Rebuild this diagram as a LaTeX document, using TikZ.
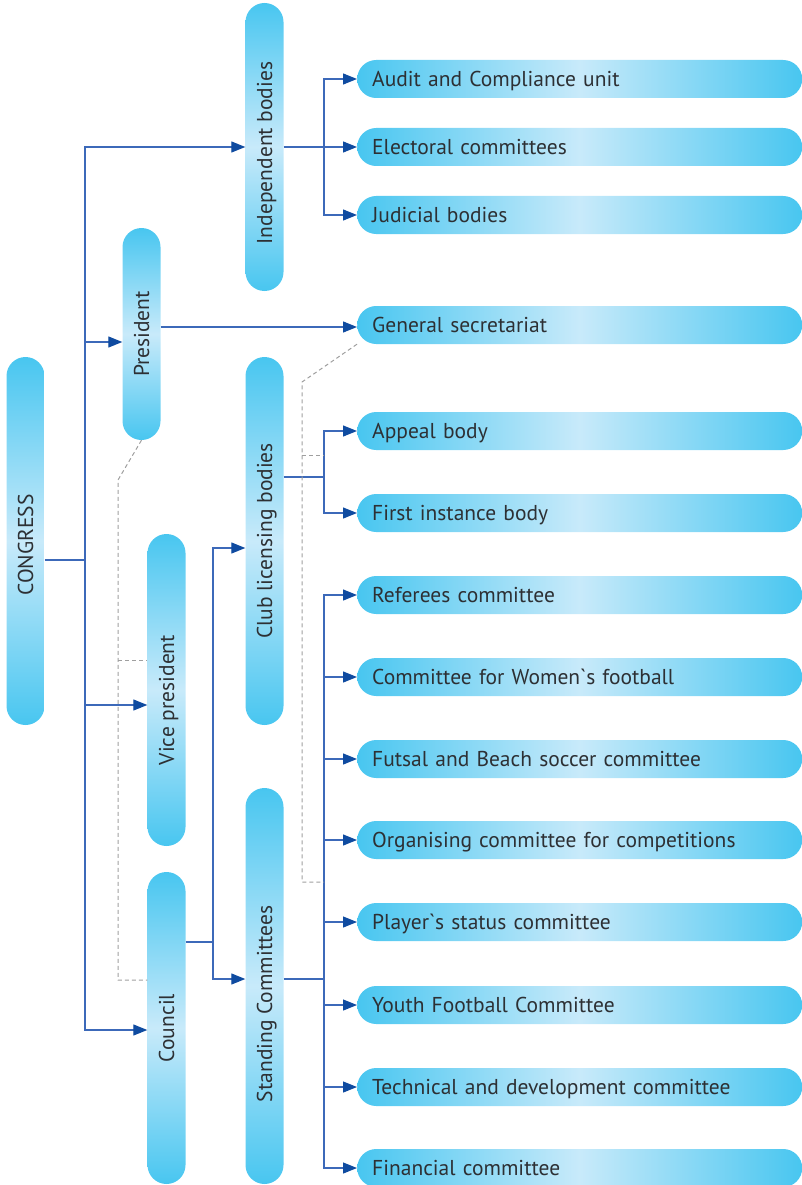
\documentclass[tikz,border=0pt]{standalone}
\usepackage{fontspec}
\setmainfont{PT Sans}
\usetikzlibrary{arrows.meta}
\definecolor{pilldark}{RGB}{72,198,240}
\definecolor{pilllight}{RGB}{200,234,250}
\definecolor{linkblue}{RGB}{60,105,185}
\definecolor{tipblue}{RGB}{15,75,160}
\definecolor{txtgray}{RGB}{45,48,52}
\tikzset{
  pill/.style={rounded corners=19pt, minimum height=38pt, inner ysep=0pt, text=txtgray,
    font=\fontsize{21.5}{24}\selectfont, text height=15pt, text depth=0pt},
  unit/.style={pill, anchor=west, text width=415pt, inner xsep=15pt, align=left,
    left color=pilldark, right color=pilldark, middle color=pilllight},
  body/.style={pill, rotate=90, inner xsep=0pt,
    top color=pilldark, bottom color=pilldark, middle color=pilllight},
  plain/.style={draw=linkblue, line width=1.2pt},
  link/.style={plain, -{Triangle[length=14pt,width=11pt,color=tipblue]}},
  aux/.style={draw=gray!75, line width=1pt, dash pattern=on 4pt off 3pt},
}
\begin{document}
\begin{tikzpicture}[x=1pt,y=-1pt]
\useasboundingbox (0,0) rectangle (802,1185);
% vertical bodies
\node[body, minimum width=368pt] (congress) at (25.5,541) {CONGRESS\hspace*{8pt}};
\node[body, minimum width=288pt] (indep) at (264.5,147) {Independent bodies\hspace*{12pt}};
\node[body, minimum width=212pt] (pres) at (141.5,334) {President};
\node[body, minimum width=368pt] (club) at (264.5,541) {Club licensing bodies};
\node[body, minimum width=312pt] (vice) at (166.5,690) {Vice president\hspace*{20pt}};
\node[body, minimum width=312pt] (council) at (166.5,1028) {Council};
\node[body, minimum width=396pt] (standing) at (264.5,986) {Standing Committees\hspace*{36pt}};
% units on the right
\node[unit] (audit) at (357,79) {Audit and Compliance unit};
\node[unit] (electoral) at (357,147) {Electoral committees};
\node[unit] (judicial) at (357,215) {Judicial bodies};
\node[unit] (gensec) at (357,325) {General secretariat};
\node[unit] (appeal) at (357,431) {Appeal body};
\node[unit] (first) at (357,513) {First instance body};
\node[unit] (referees) at (357,595) {Referees committee};
\node[unit] (women) at (357,677) {Committee for Women\textasciigrave s football};
\node[unit] (futsal) at (357,759) {Futsal and Beach soccer committee};
\node[unit] (organising) at (357,840) {Organising committee for competitions};
\node[unit] (status) at (357,922) {Player\textasciigrave s status committee};
\node[unit] (youth) at (357,1005) {Youth Football Committee};
\node[unit] (technical) at (357,1087) {Technical and development committee};
\node[unit] (financial) at (357,1168) {Financial committee};
% branch points
\coordinate (trunk) at (85,560);
\coordinate (ib) at (324,147);
\coordinate (cb) at (324,477);
\coordinate (kb) at (213,942);
\coordinate (sb) at (324,979);
% congress
\draw[plain] (congress.south |- trunk) -- (trunk);
\draw[link] (trunk) |- (indep.north);
\draw[link] (trunk) |- (pres.north |- 0,342);
\draw[link] (trunk) |- (vice.north |- 0,705);
\draw[link] (trunk) |- (council.north |- 0,1030);
% president
\draw[link] (pres.south |- 0,327) -- (gensec.west |- 0,327);
% independent bodies
\draw[plain] (indep.south) -- (ib);
\foreach \n in {audit,electoral,judicial}
  \draw[link] (ib) |- (\n.west);
% club licensing
\draw[plain] (club.south |- cb) -- (cb);
\foreach \n in {appeal,first}
  \draw[link] (cb) |- (\n.west);
% council
\draw[plain] (council.south |- kb) -- (kb);
\draw[link] (kb) |- (club.north |- 0,548);
\draw[link] (kb) |- (standing.north |- 0,979);
% standing committees
\draw[plain] (standing.south |- sb) -- (sb);
\foreach \n in {referees,women,futsal,organising,status,youth,technical,financial}
  \draw[link] (sb) |- (\n.west);
% dashed links
\draw[aux] (pres.west) -- (118,480) |- (council.north |- 0,980);
\draw[aux] (118,660) -- (vice.north |- 0,660);
\draw[aux] (gensec.south west) -- (302,382) |- (324,882);
\draw[aux] (302,455) -- (324,455);
\end{tikzpicture}
\end{document}
